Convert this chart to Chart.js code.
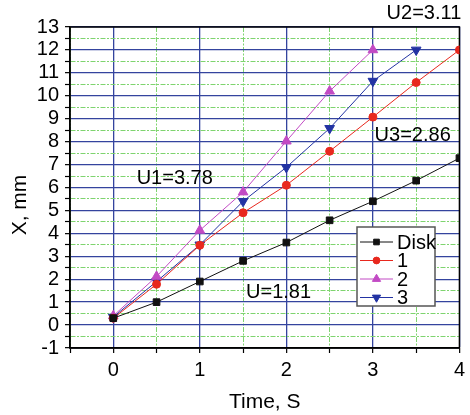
<!DOCTYPE html>
<html>
<head>
<meta charset="utf-8">
<script src="https://cdn.jsdelivr.net/npm/chart.js@4.4.1/dist/chart.umd.min.js"></script>
<style>
  html, body { margin: 0; padding: 0; background: #fff; }
  #wrap { width: 470px; height: 415px; }
</style>
</head>
<body>
<div id="wrap"><canvas id="chart"></canvas></div>
<script>
// time points (s)
const times = [0, 0.5, 1, 1.5, 2, 2.5, 3, 3.5, 4];

// displacement X, mm
const disk = [0.3, 1.0, 1.9, 2.8, 3.6, 4.57, 5.4, 6.3, 7.28];
const series1 = [0.3, 1.78, 3.48, 4.9, 6.1, 7.58, 9.07, 10.58, 12.0];
const series2 = [0.4, 2.12, 4.13, 5.8, 8.02, 10.2, 12.0];
const series3 = [0.35, 1.9, 3.5, 5.4, 6.88, 8.58, 10.64, 12.0];

const seriesNames = ['Disk', '1', '2', '3'];

// text labels on the plot: [text, x, y] in data units
const notes = [
    ['U1=3.78', 0.71, 6.4],
    ['U2=3.11', 3.59, 13.57],
    ['U3=2.86', 3.46, 8.28],
    ['U=1.81', 1.91, 1.43],
];

const FONT = "'Liberation Sans', Arial, Helvetica, sans-serif";
const BLUE_GRID = '#34449e';
const GREEN_GRID = '#7fd46f';

function toPoints(values) {
    return values.map((v, i) => ({ x: times[i], y: v }));
}

function isWhole(v) {
    return Math.abs(v - Math.round(v)) < 1e-6;
}

function gridColor(ctx) {
    if (!ctx.tick) return '#000';
    return isWhole(ctx.tick.value) ? BLUE_GRID : GREEN_GRID;
}

function gridWidth(ctx) {
    if (!ctx.tick) return 1;
    return isWhole(ctx.tick.value) ? 1.3 : 1;
}

function gridDash(ctx) {
    if (!ctx.tick) return [];
    return isWhole(ctx.tick.value) ? [] : [5, 1.5, 2, 1.5];
}

const framePlugin = {
    id: 'frame',
    beforeDatasetsDraw(chart) {
        const { ctx, chartArea } = chart;
        ctx.save();
        ctx.strokeStyle = '#000';
        ctx.lineWidth = 1.5;
        ctx.strokeRect(chartArea.left, chartArea.top,
            chartArea.right - chartArea.left, chartArea.bottom - chartArea.top);
        ctx.restore();
    }
};

const notesPlugin = {
    id: 'notes',
    afterDatasetsDraw(chart) {
        const { ctx, scales } = chart;
        ctx.save();
        ctx.fillStyle = '#000';
        ctx.font = '20px ' + FONT;
        ctx.textAlign = 'center';
        ctx.textBaseline = 'middle';
        notes.forEach(([text, x, y]) => {
            ctx.fillText(text, scales.x.getPixelForValue(x), scales.y.getPixelForValue(y));
        });
        ctx.restore();
    }
};

// boxed legend sitting inside the plot, lower right
const legendPlugin = {
    id: 'boxLegend',
    afterDraw(chart) {
        const { ctx } = chart;
        const left = 357, top = 227, w = 78, h = 79, row = 18.5;
        ctx.save();
        ctx.fillStyle = '#fff';
        ctx.fillRect(left, top, w, h);
        ctx.strokeStyle = '#555';
        ctx.lineWidth = 1.5;
        ctx.strokeRect(left, top, w, h);
        chart.data.datasets.forEach((ds, i) => {
            const y = top + 15 + i * row;
            ctx.strokeStyle = ds.borderColor;
            ctx.lineWidth = 1;
            ctx.beginPath();
            ctx.moveTo(left + 3, y);
            ctx.lineTo(left + 36, y);
            ctx.stroke();
            ctx.fillStyle = ds.pointBackgroundColor;
            ctx.strokeStyle = ds.pointBackgroundColor;
            Chart.helpers.drawPoint(ctx, {
                pointStyle: ds.pointStyle,
                rotation: ds.pointRotation || 0,
                radius: ds.pointRadius * 0.85,
                borderWidth: 1
            }, left + 19.5, y);
            ctx.fillStyle = '#000';
            ctx.font = '20px ' + FONT;
            ctx.textAlign = 'left';
            ctx.textBaseline = 'middle';
            ctx.fillText(ds.label, left + 40, y + 1);
        });
        ctx.restore();
    }
};

function makeSet(label, values, color, style, radius, rotation) {
    return {
        label: label,
        data: toPoints(values),
        borderColor: color,
        backgroundColor: color,
        pointBackgroundColor: color,
        pointBorderColor: color,
        pointStyle: style,
        pointRadius: radius,
        pointRotation: rotation || 0,
        pointBorderWidth: 1,
        borderWidth: 1,
        tension: 0,
    };
}

const datasets = [
    makeSet(seriesNames[0], disk, '#111111', 'rect', 4.7),
    makeSet(seriesNames[1], series1, '#e8281e', 'circle', 4),
    makeSet(seriesNames[2], series2, '#c24ac4', 'triangle', 5.6),
    makeSet(seriesNames[3], series3, '#2333a3', 'triangle', 5.6, 180),
];

new Chart(document.getElementById('chart'), {
    type: 'line',
    data: { datasets },
    plugins: [framePlugin, notesPlugin, legendPlugin],
    options: {
        responsive: true,
        maintainAspectRatio: false,
        animation: false,
        layout: { padding: { left: 0, top: 27, right: 7, bottom: 0 } },
        plugins: {
            legend: { display: false },
            tooltip: { enabled: false },
        },
        scales: {
            x: {
                type: 'linear',
                min: -0.5,
                max: 4,
                afterFit(scale) { scale.height = 67; },
                ticks: {
                    stepSize: 0.5,
                    autoSkip: false,
                    maxRotation: 0,
                    color: '#000',
                    padding: 5,
                    font: { family: FONT, size: 20 },
                    callback: (v) => isWhole(v) ? String(Math.round(v)) : '',
                },
                grid: {
                    color: gridColor,
                    lineWidth: gridWidth,
                    tickColor: '#000',
                    tickLength: 5,
                    tickWidth: 1.2,
                },
                border: { color: '#000', width: 1.5, dash: gridDash },
                title: {
                    display: true,
                    text: 'Time, S',
                    color: '#000',
                    font: { family: FONT, size: 21 },
                    padding: { top: 2, bottom: 0 },
                },
            },
            y: {
                type: 'linear',
                min: -1,
                max: 13,
                afterFit(scale) { scale.width = 70; },
                ticks: {
                    stepSize: 0.5,
                    autoSkip: false,
                    color: '#000',
                    padding: 6,
                    font: { family: FONT, size: 20 },
                    callback: (v) => isWhole(v) ? String(Math.round(v)) : '',
                },
                grid: {
                    color: gridColor,
                    lineWidth: gridWidth,
                    tickColor: '#000',
                    tickLength: 5,
                    tickWidth: 1.2,
                },
                border: { color: '#000', width: 1.5, dash: gridDash },
                title: {
                    display: true,
                    // trailing spaces nudge the rotated title down to where the original sits
                    text: 'X, mm      ',
                    color: '#000',
                    font: { family: FONT, size: 21 },
                    padding: { top: 8, bottom: 0 },
                },
            },
        },
    },
});
</script>
</body>
</html>
